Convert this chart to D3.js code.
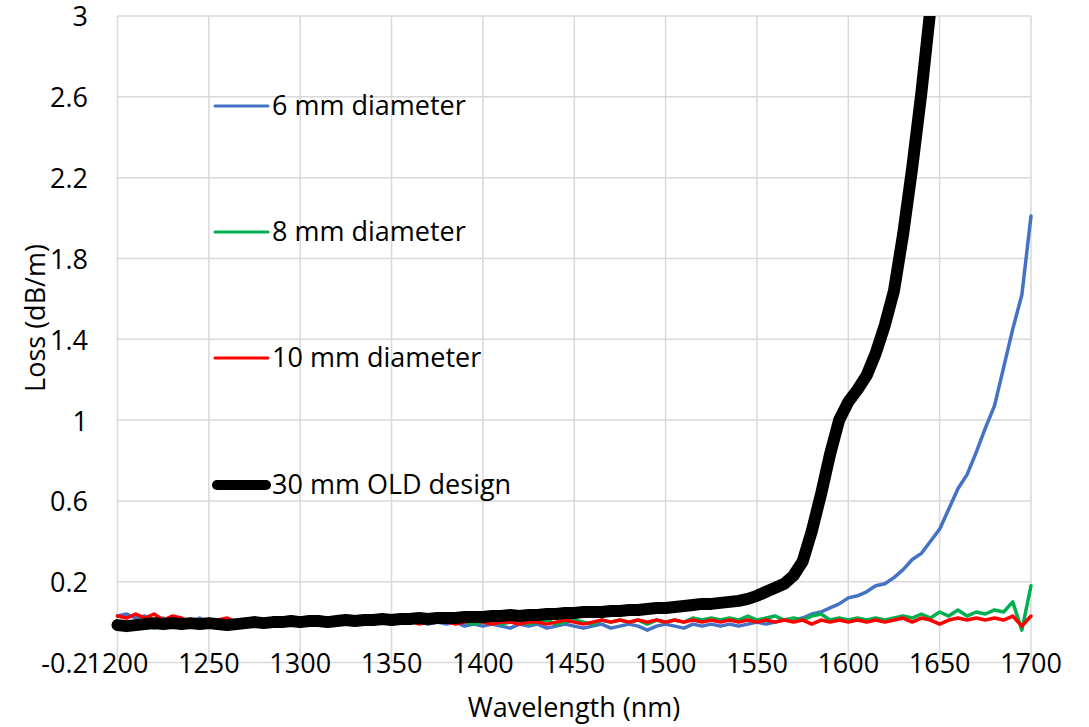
<!DOCTYPE html>
<html>
<head>
<meta charset="utf-8">
<script src="https://cdn.jsdelivr.net/npm/d3@7"></script>
<style>
  html, body { margin: 0; padding: 0; background: #fff; }
  svg { display: block; font-family: "Open Sans", "Noto Sans", sans-serif; }
</style>
</head>
<body>
<div id="chart"></div>
<script>
// wavelength grid, 5 nm steps 1200..1700
const wavelengths = d3.range(1200, 1701, 5);

const loss6mm = [
  0.03, 0.04, 0.02, 0.03, 0.01, 0.02, 0.00, 0.01, 0.00, 0.02,
  0.00, 0.01, -0.01, 0.00, 0.01, 0.02, 0.01, 0.00, 0.01, 0.00,
  0.01, 0.00, 0.01, 0.00, 0.01, 0.00, -0.01, 0.00, 0.01, 0.00,
  -0.01, 0.00, 0.01, 0.00, -0.01, 0.00, -0.01, 0.00, -0.02, -0.01,
  -0.02, -0.01, -0.02, -0.03, -0.01, -0.02, -0.01, -0.03, -0.02, -0.01,
  -0.02, -0.03, -0.02, -0.01, -0.03, -0.02, -0.01, -0.02, -0.04, -0.02,
  -0.01, -0.02, -0.03, -0.01, -0.02, -0.01, -0.02, -0.01, -0.02, -0.01,
  0.00, -0.01, 0.00, 0.01, 0.01, 0.02, 0.04, 0.05, 0.07, 0.09,
  0.12, 0.13, 0.15, 0.18, 0.19, 0.22, 0.26, 0.31, 0.34, 0.40,
  0.46, 0.56, 0.66, 0.73, 0.84, 0.96, 1.07, 1.26, 1.45, 1.62,
  2.01
];

const loss8mm = [
  -0.01, -0.03, -0.02, -0.01, -0.03, -0.02, -0.01, -0.03, -0.02, -0.01,
  -0.02, 0.00, -0.01, 0.00, -0.01, 0.02, 0.00, -0.01, 0.00, 0.01,
  0.00, 0.01, -0.01, 0.01, 0.02, 0.00, 0.01, 0.00, 0.02, 0.01,
  0.00, 0.01, 0.00, 0.01, 0.00, 0.01, 0.00, 0.01, 0.00, -0.01,
  0.00, 0.01, -0.01, 0.00, 0.01, -0.01, 0.00, 0.01, -0.01, 0.00,
  0.01, 0.00, -0.01, 0.01, 0.00, 0.01, 0.00, 0.01, -0.01, 0.01,
  0.00, 0.01, 0.00, 0.02, 0.01, 0.02, 0.01, 0.02, 0.01, 0.03,
  0.01, 0.02, 0.03, 0.01, 0.02, 0.01, 0.03, 0.04, 0.01, 0.02,
  0.01, 0.02, 0.01, 0.02, 0.01, 0.02, 0.03, 0.02, 0.04, 0.02,
  0.05, 0.03, 0.06, 0.03, 0.05, 0.04, 0.06, 0.05, 0.10, -0.04,
  0.18
];

const loss10mm = [
  0.03, 0.02, 0.04, 0.02, 0.04, 0.01, 0.03, 0.02, 0.00, 0.01,
  0.00, 0.01, 0.02, 0.00, 0.01, 0.00, 0.01, 0.00, 0.01, 0.00,
  0.01, 0.00, 0.00, 0.02, 0.00, 0.01, 0.00, 0.01, 0.00, 0.00,
  0.01, 0.00, 0.01, -0.01, 0.00, 0.01, 0.00, -0.01, 0.00, 0.01,
  0.00, -0.01, 0.00, 0.00, -0.01, 0.00, 0.00, -0.01, 0.00, 0.01,
  0.00, -0.01, 0.00, 0.01, 0.00, 0.01, 0.00, 0.01, 0.00, 0.01,
  0.00, 0.01, 0.00, 0.01, 0.00, 0.01, 0.00, 0.01, 0.00, 0.01,
  0.00, 0.01, 0.00, 0.01, 0.00, 0.01, -0.01, 0.01, 0.00, 0.01,
  0.00, 0.01, 0.00, 0.01, 0.00, 0.01, 0.02, 0.00, 0.02, 0.01,
  -0.01, 0.01, 0.02, 0.01, 0.02, 0.01, 0.02, 0.01, 0.03, -0.02,
  0.03
];

// old design, runs off the top of the chart near 1645 nm
const loss30mmOld = [
  -0.015, -0.02, -0.015, -0.01, -0.005, -0.01, -0.005, -0.01, -0.005, -0.01,
  -0.005, -0.01, -0.015, -0.01, -0.005, 0.00, -0.005, 0.00, 0.00, 0.005,
  0.00, 0.005, 0.005, 0.00, 0.005, 0.01, 0.005, 0.01, 0.01, 0.015,
  0.01, 0.015, 0.015, 0.02, 0.015, 0.02, 0.02, 0.02, 0.025, 0.025,
  0.025, 0.03, 0.03, 0.035, 0.03, 0.035, 0.035, 0.04, 0.04, 0.045,
  0.045, 0.05, 0.05, 0.05, 0.055, 0.055, 0.06, 0.06, 0.065, 0.07,
  0.07, 0.075, 0.08, 0.085, 0.09, 0.09, 0.095, 0.10, 0.105, 0.115,
  0.13, 0.15, 0.17, 0.19, 0.23, 0.30, 0.45, 0.63, 0.83, 1.00,
  1.09, 1.15, 1.22, 1.33, 1.47, 1.64, 1.92, 2.25, 2.62, 3.04,
  3.45
];

const seriesNames = ["6 mm diameter", "8 mm diameter", "10 mm diameter", "30 mm OLD design"];
const seriesColors = ["#4472C4", "#00B050", "#FF0000", "#000000"];
const seriesValues = [loss6mm, loss8mm, loss10mm, loss30mmOld];

const xTicks = d3.range(1200, 1701, 50);
const yTicks = [-0.2, 0.2, 0.6, 1, 1.4, 1.8, 2.2, 2.6, 3];

const width = 1089, height = 727;
const plot = { left: 117.5, right: 1031, top: 16, bottom: 662.5 };

const x = d3.scaleLinear().domain([1200, 1700]).range([plot.left, plot.right]);
const y = d3.scaleLinear().domain([-0.2, 3]).range([plot.bottom, plot.top]);

const svg = d3.select("#chart").append("svg")
  .attr("width", width)
  .attr("height", height);

svg.append("defs").append("clipPath").attr("id", "plot-clip")
  .append("rect")
  .attr("x", plot.left - 10)
  .attr("y", plot.top)
  .attr("width", plot.right - plot.left + 20)
  .attr("height", plot.bottom - plot.top + 10);

// gridlines
const grid = svg.append("g").attr("stroke", "#d9d9d9").attr("stroke-width", 1.5);
grid.selectAll(".hg").data(yTicks).join("line")
  .attr("x1", plot.left).attr("x2", plot.right)
  .attr("y1", d => y(d)).attr("y2", d => y(d));
grid.selectAll(".vg").data(xTicks).join("line")
  .attr("y1", plot.top).attr("y2", plot.bottom)
  .attr("x1", d => x(d)).attr("x2", d => x(d));

// tick labels (plain hyphen for the minus, like the original)
const fontSize = 27;
svg.append("g").selectAll("text").data(yTicks).join("text")
  .attr("x", 88)
  .attr("y", d => y(d) + 1)
  .attr("dy", "0.35em")
  .attr("text-anchor", "end")
  .attr("font-size", fontSize)
  .attr("fill", "#000")
  .text(d => String(+d.toFixed(1)));

svg.append("g").selectAll("text").data(xTicks).join("text")
  .attr("x", d => x(d))
  .attr("y", 673)
  .attr("text-anchor", "middle")
  .attr("font-size", fontSize)
  .attr("fill", "#000")
  .text(d => d);

// axis titles
svg.append("text")
  .attr("x", 574).attr("y", 717)
  .attr("text-anchor", "middle")
  .attr("font-size", fontSize)
  .text("Wavelength (nm)");

svg.append("text")
  .attr("transform", "translate(45,318) rotate(-90)")
  .attr("text-anchor", "middle")
  .attr("font-size", fontSize)
  .text("Loss (dB/m)");

// series
const line = d3.line()
  .x((d, i) => x(wavelengths[i]))
  .y(d => y(d));

const lines = svg.append("g").attr("clip-path", "url(#plot-clip)");
seriesValues.forEach((vals, k) => {
  lines.append("path")
    .datum(vals)
    .attr("fill", "none")
    .attr("stroke", seriesColors[k])
    .attr("stroke-width", k === 3 ? 12 : 3.5)
    .attr("stroke-linejoin", "round")
    .attr("stroke-linecap", "round")
    .attr("d", line);
});

// legend inside the plot
const legendY = [106, 232, 358, 485];
const legend = svg.append("g").selectAll("g").data(seriesNames).join("g")
  .attr("transform", (d, i) => `translate(0,${legendY[i]})`);
legend.append("line")
  .attr("x1", (d, i) => i === 3 ? 217 : 215)
  .attr("x2", (d, i) => i === 3 ? 266 : 268)
  .attr("stroke", (d, i) => seriesColors[i])
  .attr("stroke-width", (d, i) => i === 3 ? 10 : 3)
  .attr("stroke-linecap", "round");
legend.append("text")
  .attr("x", 272)
  .attr("dy", "0.35em")
  .attr("font-size", fontSize)
  .attr("fill", "#000")
  .text(d => d);
</script>
</body>
</html>
